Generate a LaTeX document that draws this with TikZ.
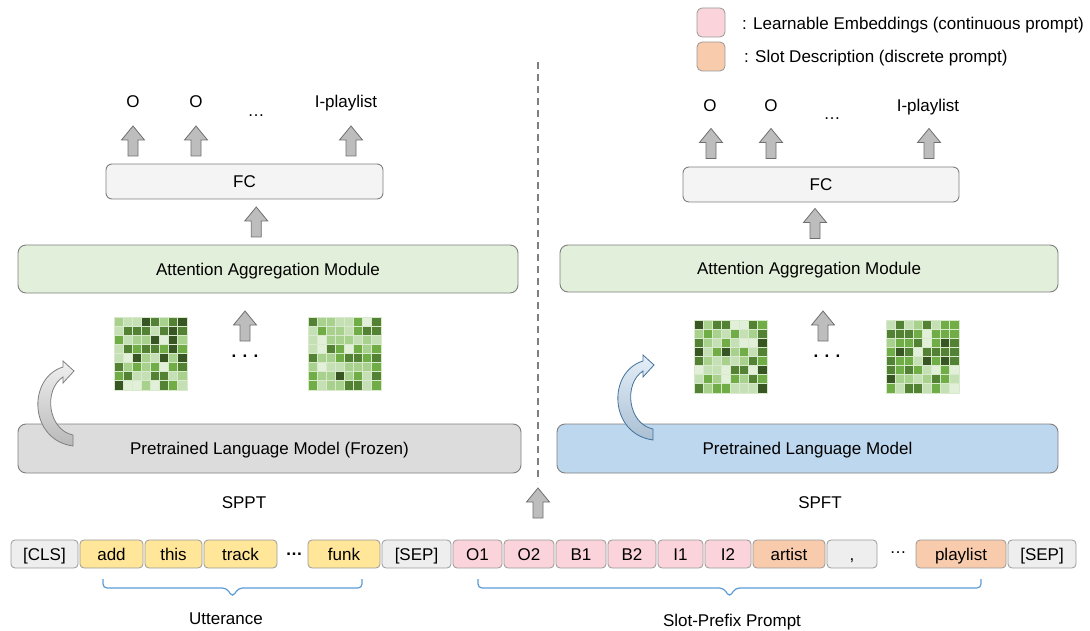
\documentclass[tikz,border=0pt]{standalone}
\usepackage{fontspec}
\setmainfont{Liberation Sans}
\usepackage{tikz}
\usetikzlibrary{calc,positioning}
\usepackage{xcolor}
\definecolor{linegray}{HTML}{7F7F7F}
\definecolor{fcfill}{HTML}{F4F4F4}
\definecolor{attfill}{HTML}{E2EFDA}
\definecolor{frozenfill}{HTML}{DCDCDC}
\definecolor{plmfill}{HTML}{BDD7EE}
\definecolor{tokgray}{HTML}{EEEEEE}
\definecolor{tokyellow}{HTML}{FFE699}
\definecolor{tokpink}{HTML}{FAD4DA}
\definecolor{tokorange}{HTML}{F8CBAD}
\definecolor{arrowfill}{HTML}{BDBDBD}
\definecolor{arrowline}{HTML}{6F6F6F}
\definecolor{braceblue}{HTML}{5B9BD5}
\definecolor{bendblue}{HTML}{41719C}
\definecolor{cellline}{HTML}{D8EACB}
\definecolor{ga}{HTML}{E2F0D9}
\definecolor{gb}{HTML}{C5E0B4}
\definecolor{gc}{HTML}{A9D18E}
\definecolor{gd}{HTML}{70AD47}
\definecolor{ge}{HTML}{548235}
\definecolor{gf}{HTML}{375623}
\colorlet{g1}{ga}\colorlet{g2}{gb}\colorlet{g3}{gb}\colorlet{g4}{gc}
\colorlet{g5}{gc}\colorlet{g6}{gd}\colorlet{g7}{gd}\colorlet{g8}{ge}
\colorlet{g9}{ge}\colorlet{g10}{gf}

\begin{document}
\begin{tikzpicture}[x=1pt, y=-1pt, font=\fontsize{17}{20}\selectfont,
  box/.style={draw=linegray, line width=0.9pt, rounded corners=8pt, inner sep=0pt, text height=12.2pt, text depth=0pt},
  tok/.style={draw=linegray!80, line width=0.8pt, rounded corners=4pt, minimum height=28pt, inner sep=0pt, text height=12.2pt, text depth=0pt},
  lbl/.style={inner sep=0pt, anchor=base},
  cell/.style={draw=cellline, line width=0.5pt},
  arrowbox/.style={draw=arrowline, fill=arrowfill, line width=0.8pt},
  brc/.style={draw=braceblue, line width=1.2pt, rounded corners=4pt},
  uparr/.pic={\path[arrowbox] (-5,15) -- (-5,-1) -- (-11.5,-1) -- (0,-15) -- (11.5,-1) -- (5,-1) -- (5,15) -- cycle;},
  bendarr/.pic={\path[pic actions, line width=0.8pt] (0,-5) .. controls (-25,-10) and (-30,-50) .. (-10,-63) -- (-10,-57) -- (1,-69) -- (-10,-79) -- (-10,-73) .. controls (-46,-62) and (-44,0) .. (0,6) -- cycle;}
]
  \useasboundingbox (0,0) rectangle (1090,631);

  % Legend
  \node[tok, fill=tokpink, minimum width=28pt, minimum height=29pt, rounded corners=5pt] (legPink) at (711,22.5) {};
  \node[tok, fill=tokorange, minimum width=28pt, minimum height=29pt, rounded corners=5pt] (legOrange) at (711,56.5) {};
  \node[lbl, anchor=base west] (legPinkTxt) at (742,30) {: Learnable Embeddings (continuous prompt)};
  \node[lbl, anchor=base west] (legOrangeTxt) at (744,63) {: Slot Description (discrete prompt)};

  % Left model (SPPT)
  \node[box, fill=frozenfill, minimum width=503pt, minimum height=49pt] (plmL) at (269.5,448.5) {Pretrained Language Model (Frozen)};
  \node[box, fill=attfill, minimum width=500pt, minimum height=48pt] (attL) at (268,269) {Attention Aggregation Module};
  \node[box, fill=fcfill, rounded corners=6pt, minimum width=277pt, minimum height=35pt] (fcL) at (244.5,181.5) {FC};
  \node[inner sep=0pt, minimum size=73pt] (mapA) at (150.5,353.5) {};
  \node[inner sep=0pt, minimum size=73pt] (mapB) at (344.5,353.5) {};
  \node[inner sep=0pt] (dotsL) at (245,356) {\textbf{. . .}};
  \node[lbl] (outL1) at (133,108) {O};
  \node[lbl] (outL2) at (196,108) {O};
  \node[lbl] (outL3) at (346,108) {I-playlist};
  \node[inner sep=0pt] (outLdots) at (256,116) {\dots};
  \node[lbl] (spptLbl) at (244,508) {SPPT};
  \pic at (outL1 |- 0,141) {uparr};
  \pic at (outL2 |- 0,141) {uparr};
  \pic at ([xshift=5pt]outL3 |- 0,141) {uparr};
  \pic at ($(fcL.south)!.5!(attL.north)$) {uparr};
  \pic at (245,326) {uparr};
  \pic[draw=linegray, top color=gray!12, bottom color=gray!55] at (73,440) {bendarr};

  % Right model (SPFT)
  \node[box, fill=plmfill, minimum width=501pt, minimum height=49pt] (plmR) at (807.5,448.5) {Pretrained Language Model};
  \node[box, fill=attfill, minimum width=498pt, minimum height=47pt] (attR) at (809,268.5) {Attention Aggregation Module};
  \node[box, fill=fcfill, rounded corners=6pt, minimum width=276pt, minimum height=35pt] (fcR) at (821,184.5) {FC};
  \node[inner sep=0pt, minimum size=73pt] (mapC) at (730.5,356.5) {};
  \node[inner sep=0pt, minimum size=73pt] (mapD) at (922.5,356.5) {};
  \node[inner sep=0pt] (dotsR) at (827,356) {\textbf{. . .}};
  \node[lbl] (outR1) at (710,112) {O};
  \node[lbl] (outR2) at (771,112) {O};
  \node[lbl] (outR3) at (928,112) {I-playlist};
  \node[inner sep=0pt] (outRdots) at (832,119) {\dots};
  \node[lbl] (spftLbl) at (820,508) {SPFT};
  \pic at (711,143.5) {uparr};
  \pic at (771,143.5) {uparr};
  \pic at (929,143.5) {uparr};
  \pic at ($(fcR.south)!.5!(attR.north)$) {uparr};
  \pic at (823,326) {uparr};
  \pic[draw=bendblue, top color=plmfill!40, bottom color=bendblue!45] at (653,434) {bendarr};

  % Attention maps
  \foreach \m/\s in {mapA/3, mapB/17, mapC/29, mapD/41}{
    \pgfmathsetseed{\s}
    \foreach \i in {0,...,7}
      \foreach \j in {0,...,7}{
        \pgfmathrandominteger{\r}{1}{10}
        \draw[cell, fill=g\r] ([shift={(\i*9.125,\j*9.125)}]\m.north west) rectangle ++(9.125,9.125);
      }
  }

  % Divider
  \coordinate (divTop) at (538,62);
  \coordinate (divBot) at (538,482);
  \draw[linegray, line width=1.4pt, dash pattern=on 7pt off 5pt] (divTop) -- (divBot);
  \pic at (538,503) {uparr};

  % Input tokens
  \foreach \n/\c/\w/\t/\f in {cls/44.5/67/[CLS]/tokgray, add/111.5/63/add/tokyellow,
      this/173.5/57/this/tokyellow, track/240.5/73/track/tokyellow, funk/344/72/funk/tokyellow,
      sepA/416.5/69/[SEP]/tokgray, oA/477.5/49/O1/tokpink, oB/529/50/O2/tokpink,
      bA/581/50/B1/tokpink, bB/632/48/B2/tokpink, iA/680.5/45/I1/tokpink, iB/728/46/I2/tokpink,
      artist/789/72/artist/tokorange, comma/852/50/{,}/tokgray, playlist/961/90/playlist/tokorange,
      sepB/1042/68/[SEP]/tokgray}
    \node[tok, fill=\f, minimum width=\w pt] (\n) at (\c,554) {\t};
  \node[inner sep=0pt] (tokDotsA) at (294,554) {\textbf{\dots}};
  \node[inner sep=0pt] (tokDotsB) at (898,553) {\dots};

  % Braces
  \coordinate (uttL) at (103,579);
  \coordinate (uttR) at (362,579);
  \coordinate (slotL) at (478,579);
  \coordinate (slotR) at (981,579);
  \draw[brc] (uttL) |- ($(uttL)!.5!(uttR)+(-6,9)$) -- ($(uttL)!.5!(uttR)+(0,18)$) -- ($(uttL)!.5!(uttR)+(6,9)$) -| (uttR);
  \draw[brc] (slotL) |- ($(slotL)!.5!(slotR)+(-6,9)$) -- ($(slotL)!.5!(slotR)+(0,18)$) -- ($(slotL)!.5!(slotR)+(6,9)$) -| (slotR);
  \node[lbl] (uttLbl) at (226,624) {Utterance};
  \node[lbl] (slotLbl) at (732,626) {Slot-Prefix Prompt};
\end{tikzpicture}
\end{document}
